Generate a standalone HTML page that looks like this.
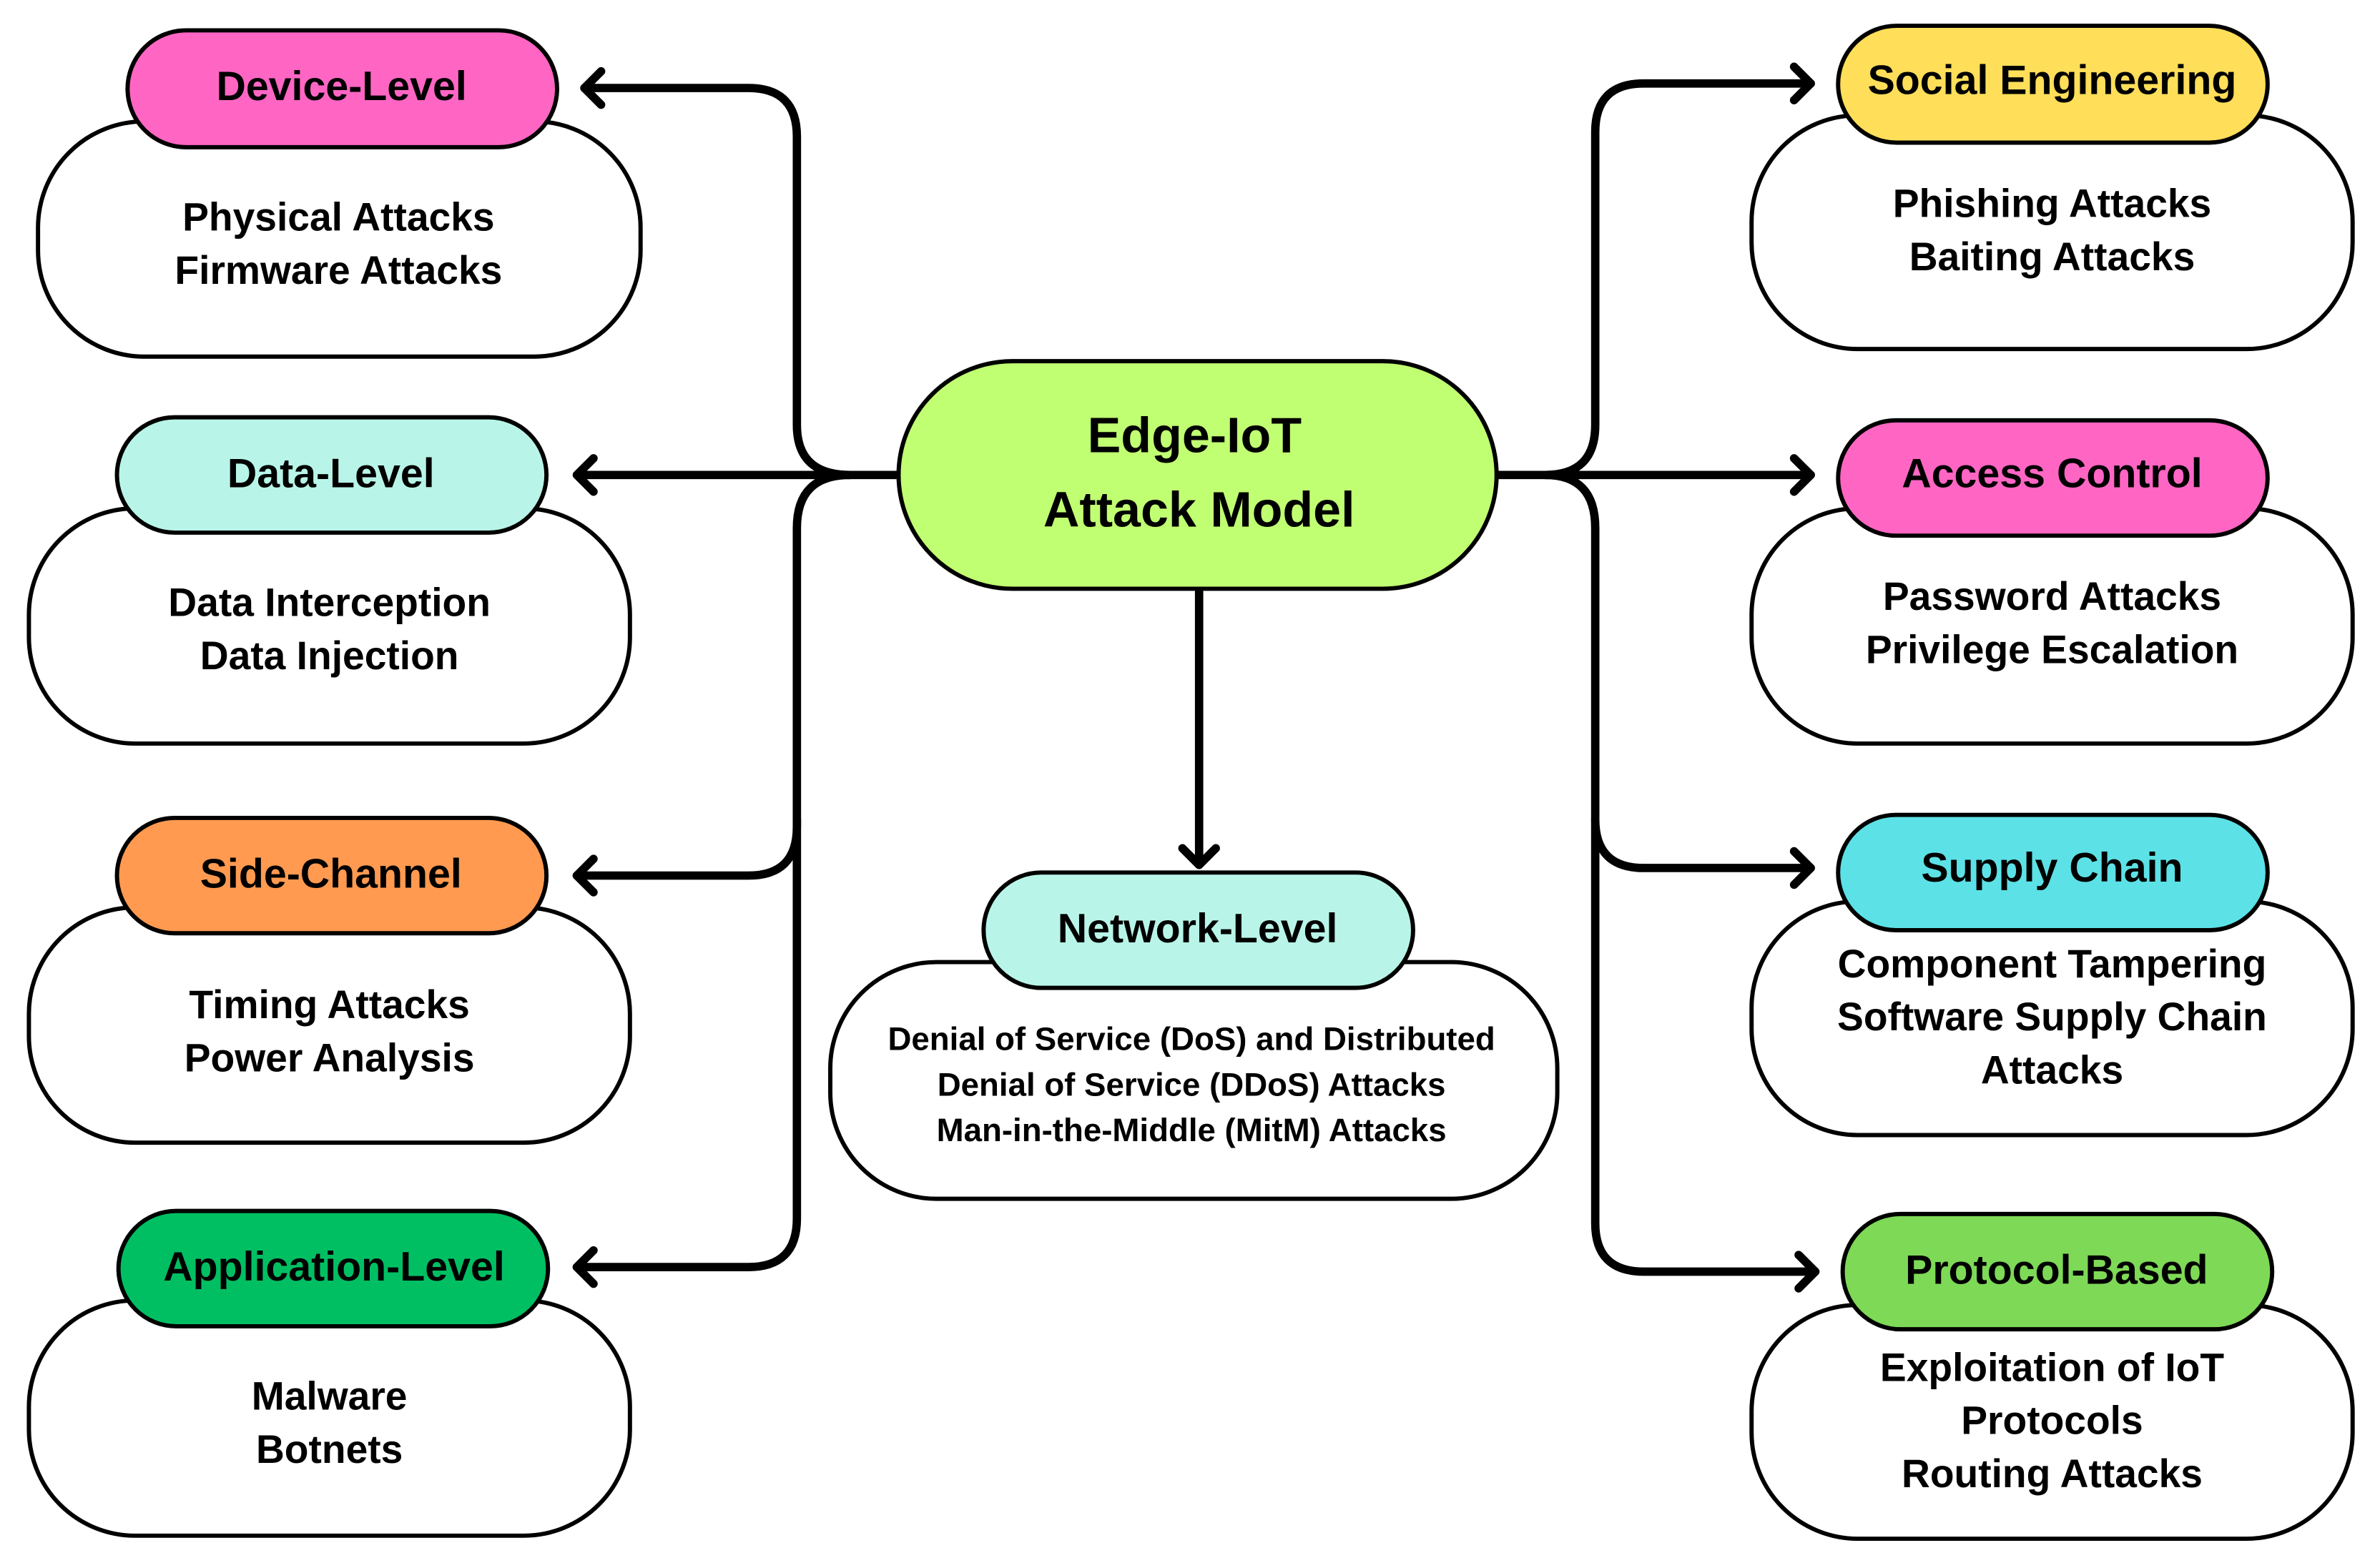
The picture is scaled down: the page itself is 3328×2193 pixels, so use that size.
<!DOCTYPE html>
<html><head><meta charset="utf-8"><style>
html,body{margin:0;padding:0;background:#fff}
svg{display:block}
text{font-family:"Liberation Sans",sans-serif;font-weight:bold;fill:#000;text-anchor:middle}
.l{font-size:27px}
.b{font-size:26px}
.n{font-size:21.5px}
.box{fill:#fff;stroke:#000;stroke-width:2.8}
.pill{stroke:#000;stroke-width:2.8}
.c{fill:none;stroke:#000;stroke-width:5.5;stroke-linecap:round;stroke-linejoin:round}
</style></head><body>
<svg width="3328" height="2193" viewBox="0 0 1568 1033.3" xmlns="http://www.w3.org/2000/svg">
<path class="c" d="M592 313 H385"/>
<path class="c" d="M560 313 Q525 313 525 280 V90 Q525 58 493 58 H385"/>
<path class="c" d="M560 313 Q525 313 525 348 V545 Q525 577 493 577 H380"/>
<path class="c" d="M525 540 V803 Q525 835 493 835 H380"/>
<path class="c" d="M396 47 L385 58 L396 69 M391 302 L380 313 L391 324 M391 566 L380 577 L391 588 M391 824 L380 835 L391 846"/>
<path class="c" d="M986 313 H1193"/>
<path class="c" d="M1018 313 Q1051 313 1051 280 V87 Q1051 55 1083 55 H1193"/>
<path class="c" d="M1018 313 Q1051 313 1051 348 V540 Q1051 572 1083 572 H1193"/>
<path class="c" d="M1051 540 V806 Q1051 838 1083 838 H1196"/>
<path class="c" d="M1182 44 L1193 55 L1182 66 M1182 302 L1193 313 L1182 324 M1182 561 L1193 572 L1182 583 M1185 827 L1196 838 L1185 849"/>
<path class="c" d="M790 390 V570 M779 559 L790 570 L801 559"/>

<rect class="box" x="25" y="80" width="397" height="155" rx="70"/>
<rect class="pill" x="84" y="20" width="283" height="77" rx="38.5" fill="#ff66c4"/>
<text class="l" x="225" y="66">Device-Level</text>
<text class="b" x="223" y="152">Physical Attacks</text>
<text class="b" x="223" y="187">Firmware Attacks</text>

<rect class="box" x="19" y="335" width="396" height="155" rx="70"/>
<rect class="pill" x="77" y="275" width="283" height="76" rx="38" fill="#b8f5e8"/>
<text class="l" x="218" y="321">Data-Level</text>
<text class="b" x="217" y="406">Data Interception</text>
<text class="b" x="217" y="441">Data Injection</text>

<rect class="box" x="19" y="598" width="396" height="155" rx="70"/>
<rect class="pill" x="77" y="539" width="283" height="76" rx="38" fill="#ff9a50"/>
<text class="l" x="218" y="585">Side-Channel</text>
<text class="b" x="217" y="671">Timing Attacks</text>
<text class="b" x="217" y="706">Power Analysis</text>

<rect class="box" x="19" y="857" width="396" height="155" rx="70"/>
<rect class="pill" x="78" y="798" width="283" height="76" rx="38" fill="#00bf63"/>
<text class="l" x="220" y="844">Application-Level</text>
<text class="b" x="217" y="929">Malware</text>
<text class="b" x="217" y="964">Botnets</text>

<rect class="box" x="1154" y="76" width="396" height="154" rx="70"/>
<rect class="pill" x="1211" y="17" width="283" height="77" rx="38.5" fill="#ffde59"/>
<text class="l" x="1352" y="62">Social Engineering</text>
<text class="b" x="1352" y="143">Phishing Attacks</text>
<text class="b" x="1352" y="178">Baiting Attacks</text>

<rect class="box" x="1154" y="335" width="396" height="155" rx="70"/>
<rect class="pill" x="1211" y="277" width="283" height="76" rx="38" fill="#ff66c4"/>
<text class="l" x="1352" y="321">Access Control</text>
<text class="b" x="1352" y="402">Password Attacks</text>
<text class="b" x="1352" y="437">Privilege Escalation</text>

<rect class="box" x="1154" y="594" width="396" height="154" rx="70"/>
<rect class="pill" x="1211" y="537" width="283" height="76" rx="38" fill="#5ce1e6"/>
<text class="l" x="1352" y="581">Supply Chain</text>
<text class="b" x="1352" y="644">Component Tampering</text>
<text class="b" x="1352" y="679">Software Supply Chain</text>
<text class="b" x="1352" y="714">Attacks</text>

<rect class="box" x="1154" y="860" width="396" height="154" rx="70"/>
<rect class="pill" x="1214" y="800" width="283" height="76" rx="38" fill="#7ed957"/>
<text class="l" x="1355" y="846">Protocol-Based</text>
<text class="b" x="1352" y="910">Exploitation of IoT</text>
<text class="b" x="1352" y="945">Protocols</text>
<text class="b" x="1352" y="980">Routing Attacks</text>

<rect class="pill" x="592" y="238" width="394" height="150" rx="75" fill="#c1ff72"/>
<text x="787" y="298" style="font-size:33px">Edge-IoT</text>
<text x="790" y="347" style="font-size:33px">Attack Model</text>

<rect class="box" x="547" y="634" width="479" height="156" rx="70"/>
<rect class="pill" x="648" y="575" width="283" height="76" rx="38" fill="#b8f5e8"/>
<text class="l" x="789" y="621">Network-Level</text>
<text class="n" x="785" y="692">Denial of Service (DoS) and Distributed</text>
<text class="n" x="785" y="722">Denial of Service (DDoS) Attacks</text>
<text class="n" x="785" y="752">Man-in-the-Middle (MitM) Attacks</text>
</svg>
</body></html>
